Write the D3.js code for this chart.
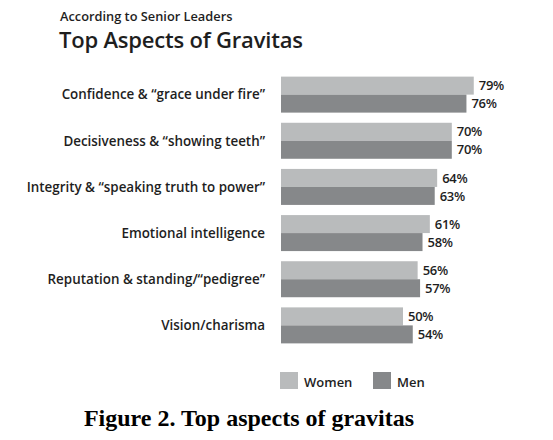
<!DOCTYPE html>
<html>
<head>
<meta charset="utf-8">
<script src="https://cdn.jsdelivr.net/npm/d3@7"></script>
<style>
  html, body { margin: 0; padding: 0; background: #fff; }
  svg { display: block; }
</style>
</head>
<body>
<svg id="chart" width="553" height="440"></svg>
<script>
const categories = [
  "Confidence & \u201cgrace under fire\u201d",
  "Decisiveness & \u201cshowing teeth\u201d",
  "Integrity & \u201cspeaking truth to power\u201d",
  "Emotional intelligence",
  "Reputation & standing/\u201cpedigree\u201d",
  "Vision/charisma"
];
const women = [79, 70, 64, 61, 56, 50];
const men = [76, 70, 63, 58, 57, 54];
const seriesNames = ["Women", "Men"];
const seriesColors = ["#b9bbbc", "#86888a"];

const svg = d3.select("#chart");
const font = "'Open Sans', 'DejaVu Sans', sans-serif";
const textColor = "#1e1e1e";

// Titles
svg.append("text").attr("x", 60).attr("y", 21)
  .attr("font-family", font).attr("font-weight", 600).attr("font-size", 12.8)
  .attr("fill", textColor)
  .text("According to Senior Leaders");
svg.append("text").attr("x", 59).attr("y", 48)
  .attr("font-family", font).attr("font-weight", 600).attr("font-size", 22)
  .attr("fill", textColor).attr("letter-spacing", -0.2)
  .text("Top Aspects of Gravitas");

const x = d3.scaleLinear().domain([0, 100]).range([281, 525]);
const y = d3.scaleBand().domain(categories).range([72, 348]).paddingInner(0.22).paddingOuter(0.1);
const sub = d3.scaleBand().domain(seriesNames).range([0, y.bandwidth()]);

const data = categories.map((c, i) => ({ cat: c, vals: [women[i], men[i]] }));

const groups = svg.append("g").selectAll("g").data(data).join("g")
  .attr("transform", d => `translate(0,${y(d.cat)})`);

groups.selectAll("rect").data(d => d.vals.map((v, j) => ({ v, s: seriesNames[j], j })))
  .join("rect")
  .attr("x", x(0))
  .attr("y", d => sub(d.s))
  .attr("width", d => x(d.v) - x(0))
  .attr("height", sub.bandwidth())
  .attr("fill", d => seriesColors[d.j]);

groups.selectAll("text.val").data(d => d.vals.map((v, j) => ({ v, s: seriesNames[j], j })))
  .join("text").attr("class", "val")
  .attr("x", d => x(d.v) + 5)
  .attr("y", d => sub(d.s) + sub.bandwidth() / 2)
  .attr("dy", "0.36em")
  .attr("font-family", font).attr("font-weight", 600).attr("font-size", 13)
  .attr("fill", textColor).attr("letter-spacing", -0.3)
  .text(d => d.v + "%");

// Category labels
svg.append("g").selectAll("text").data(categories).join("text")
  .attr("x", 265)
  .attr("y", d => y(d) + y.bandwidth() / 2)
  .attr("dy", "0.36em")
  .attr("text-anchor", "end")
  .attr("font-family", font).attr("font-weight", 600).attr("font-size", 13.4)
  .attr("fill", textColor)
  .text(d => d);

// Legend
const legend = svg.append("g").attr("transform", "translate(280,372)");
const legX = [0, 93];
seriesNames.forEach((s, i) => {
  const g = legend.append("g").attr("transform", `translate(${legX[i]},0)`);
  g.append("rect").attr("width", 18).attr("height", 17).attr("fill", seriesColors[i]);
  g.append("text").attr("x", 24).attr("y", 10).attr("dy", "0.36em")
    .attr("font-family", font).attr("font-weight", 600).attr("font-size", 13)
    .attr("fill", textColor).text(s);
});

// Caption
svg.append("text").attr("x", 249).attr("y", 426)
  .attr("text-anchor", "middle")
  .attr("font-family", "'Liberation Serif', 'Times New Roman', serif")
  .attr("font-weight", "bold").attr("font-size", 24)
  .attr("fill", "#000")
  .text("Figure 2. Top aspects of gravitas");
</script>
</body>
</html>
